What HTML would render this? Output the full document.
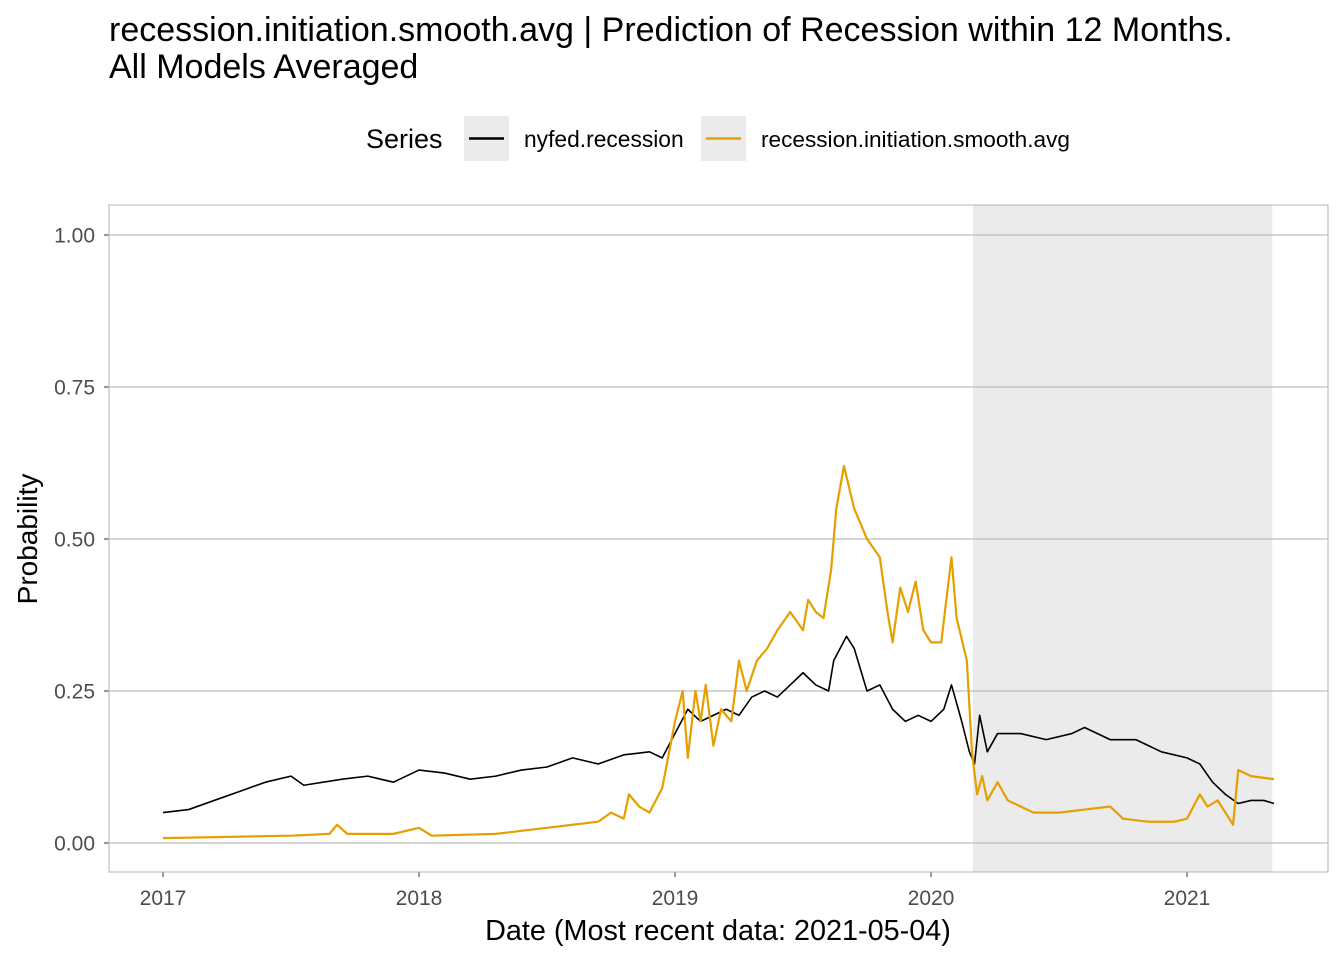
<!DOCTYPE html>
<html><head><meta charset="utf-8"><style>
body{margin:0;background:#fff;font-family:"Liberation Sans",Arial,sans-serif}
svg text{font-family:"Liberation Sans",Arial,sans-serif}
</style></head><body>
<svg id="c" width="1344" height="960">
<text x="109" y="41" font-size="34" fill="#000">recession.initiation.smooth.avg | Prediction of Recession within 12 Months.</text>
<text x="109" y="78" font-size="34" fill="#000">All Models Averaged</text>
<g>
<text x="366" y="148" font-size="27">Series</text>
<rect x="464" y="116" width="45" height="45" fill="#ebebeb"/>
<line x1="469" y1="138.5" x2="504" y2="138.5" stroke="#000" stroke-width="2.5"/>
<text x="524" y="147" font-size="22.8">nyfed.recession</text>
<rect x="701" y="116" width="45" height="45" fill="#ebebeb"/>
<line x1="706" y1="138.5" x2="741" y2="138.5" stroke="#E69F00" stroke-width="2.5"/>
<text x="761" y="147" font-size="22.6">recession.initiation.smooth.avg</text>
</g>
<g id="plot"></g>
<text x="718" y="940" font-size="28.8" text-anchor="middle">Date (Most recent data: 2021-05-04)</text>
<text transform="translate(37,539) rotate(-90)" font-size="28" text-anchor="middle">Probability</text>
</svg>
<script>
const yTicks=[0,0.25,0.5,0.75,1];
const yTickLabels=["0.00","0.25","0.50","0.75","1.00"];
const xTicks=[2017,2018,2019,2020,2021];
const recession=[2020.164,2021.333];
const nyDates=[2017.0,2017.1,2017.2,2017.3,2017.4,2017.5,2017.55,2017.7,2017.8,2017.9,2018.0,2018.1,2018.2,2018.3,2018.4,2018.5,2018.6,2018.7,2018.8,2018.9,2018.95,2019.0,2019.05,2019.1,2019.2,2019.25,2019.3,2019.35,2019.4,2019.45,2019.5,2019.55,2019.6,2019.62,2019.67,2019.7,2019.75,2019.8,2019.85,2019.9,2019.95,2020.0,2020.05,2020.08,2020.12,2020.15,2020.17,2020.19,2020.22,2020.26,2020.35,2020.45,2020.55,2020.6,2020.7,2020.8,2020.9,2021.0,2021.05,2021.1,2021.15,2021.2,2021.25,2021.3,2021.34];
const nyVals=[0.05,0.055,0.07,0.085,0.1,0.11,0.095,0.105,0.11,0.1,0.12,0.115,0.105,0.11,0.12,0.125,0.14,0.13,0.145,0.15,0.14,0.18,0.22,0.2,0.22,0.21,0.24,0.25,0.24,0.26,0.28,0.26,0.25,0.3,0.34,0.32,0.25,0.26,0.22,0.2,0.21,0.2,0.22,0.26,0.2,0.15,0.13,0.21,0.15,0.18,0.18,0.17,0.18,0.19,0.17,0.17,0.15,0.14,0.13,0.1,0.08,0.065,0.07,0.07,0.065];
const avgDates=[2017.0,2017.5,2017.65,2017.68,2017.72,2017.9,2018.0,2018.05,2018.3,2018.4,2018.5,2018.6,2018.7,2018.75,2018.8,2018.82,2018.86,2018.9,2018.95,2019.0,2019.03,2019.05,2019.08,2019.1,2019.12,2019.15,2019.18,2019.22,2019.25,2019.28,2019.32,2019.36,2019.4,2019.45,2019.5,2019.52,2019.55,2019.58,2019.61,2019.63,2019.66,2019.7,2019.75,2019.8,2019.83,2019.85,2019.88,2019.91,2019.94,2019.97,2020.0,2020.04,2020.08,2020.1,2020.14,2020.16,2020.18,2020.2,2020.22,2020.26,2020.3,2020.35,2020.4,2020.5,2020.6,2020.7,2020.75,2020.85,2020.95,2021.0,2021.05,2021.08,2021.12,2021.18,2021.2,2021.25,2021.34];
const avgVals=[0.008,0.012,0.015,0.03,0.015,0.015,0.025,0.012,0.015,0.02,0.025,0.03,0.035,0.05,0.04,0.08,0.06,0.05,0.09,0.2,0.25,0.14,0.25,0.2,0.26,0.16,0.22,0.2,0.3,0.25,0.3,0.32,0.35,0.38,0.35,0.4,0.38,0.37,0.45,0.55,0.62,0.55,0.5,0.47,0.38,0.33,0.42,0.38,0.43,0.35,0.33,0.33,0.47,0.37,0.3,0.15,0.08,0.11,0.07,0.1,0.07,0.06,0.05,0.05,0.055,0.06,0.04,0.035,0.035,0.04,0.08,0.06,0.07,0.03,0.12,0.11,0.105];
const L=109,R=1328,T=205,B=872;
const sx=d=>163+(d-2017)*256;
const sy=v=>843-v*608;
const NS="http://www.w3.org/2000/svg";
const g=document.getElementById('plot');
function mk(t,a){const e=document.createElementNS(NS,t);for(const k in a)e.setAttribute(k,a[k]);g.appendChild(e);return e;}
const bg=mk('rect',{x:L,y:T,width:R-L,height:B-T,fill:'#fff'});


const sh=mk('rect',{x:sx(recession[0]),y:T,width:sx(recession[1])-sx(recession[0]),height:B-T,fill:'#ebebeb'});


yTicks.forEach((v,i)=>{
 const gl=mk('line',{x1:L,x2:R,y1:sy(v),y2:sy(v),stroke:'#bdbdbd','stroke-width':1.3});
 
 
 mk('line',{x1:L-5,x2:L,y1:sy(v),y2:sy(v),stroke:'#333'});
 const t=mk('text',{x:L-14,y:sy(v)+7.5,'font-size':21,'text-anchor':'end',fill:'#4d4d4d'});t.textContent=yTickLabels[i];
 
 
});
xTicks.forEach(d=>{
 mk('line',{x1:sx(d),x2:sx(d),y1:B,y2:B+5,stroke:'#333'});
 const t=mk('text',{x:sx(d),y:B+33,'font-size':21,'text-anchor':'middle',fill:'#4d4d4d'});t.textContent=d;
 
 
});
mk('rect',{x:L,y:T,width:R-L,height:B-T,fill:'none',stroke:'#b3b3b3','stroke-width':1});
function line(ds,vs,col,w,name){
 const p=mk('polyline',{points:ds.map((d,i)=>sx(d)+','+sy(vs[i])).join(' '),fill:'none',stroke:col,'stroke-width':w,'stroke-linejoin':'round'});
 
 
}
line(nyDates,nyVals,'#000',1.6,'nyfed-recession-line');
line(avgDates,avgVals,'#E69F00',2.2,'recession-avg-line');
</script>
</body></html>
